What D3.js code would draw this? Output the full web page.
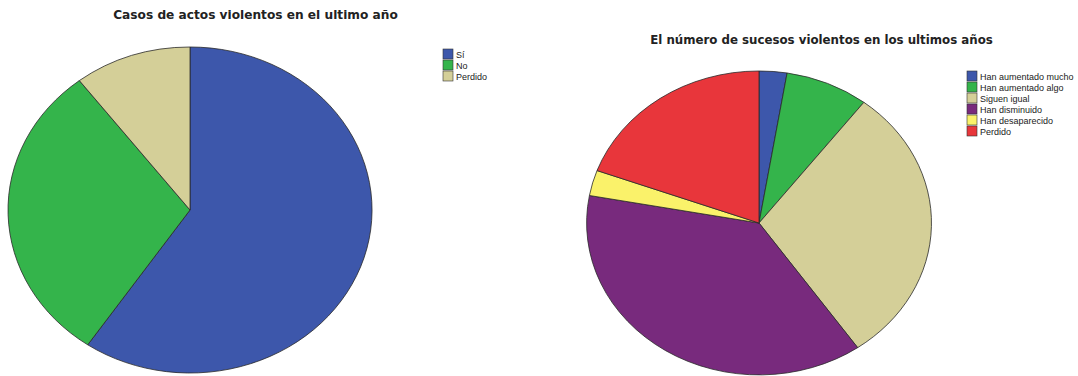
<!DOCTYPE html>
<html><head><meta charset="utf-8">
<script src="https://cdn.jsdelivr.net/npm/d3@7"></script>
<style>body{margin:0;background:#fff}svg{display:block}</style>
</head><body>
<svg id="c" width="1078" height="376"></svg>
<script>
// Chart 1
const title1 = "Casos de actos violentos en el ultimo año";
const cats1 = ["Sí", "No", "Perdido"];
const vals1 = [59.5, 30.1, 10.4];
const colors1 = ["#3d57ab", "#34b44b", "#d4cf98"];
// Chart 2
const title2 = "El número de sucesos violentos en los ultimos años";
const cats2 = ["Han aumentado mucho", "Han aumentado algo", "Siguen igual", "Han disminuido", "Han desaparecido", "Perdido"];
const vals2 = [2.6, 7.8, 29.9, 37.6, 2.7, 19.4];
const colors2 = ["#3d57ab", "#34b44b", "#d4cf98", "#782a7d", "#faf26a", "#e8363b"];

const svg = d3.select("#c");

function drawPie(cfg) {
  const g = svg.append("g").attr("transform", `translate(${cfg.cx},${cfg.cy}) scale(${cfg.rx},${cfg.ry})`);
  const pie = d3.pie().sort(null).value(d => d.v);
  const arc = d3.arc().innerRadius(0).outerRadius(1);
  const data = cfg.cats.map((c, i) => ({c, v: cfg.vals[i], col: cfg.colors[i]}));
  g.selectAll("path").data(pie(data)).join("path")
    .attr("d", arc)
    .attr("fill", d => d.data.col)
    .attr("stroke", "#2a2a2a")
    .attr("stroke-width", 0.8)
    .attr("vector-effect", "non-scaling-stroke");
  const t = svg.append("text").attr("x", cfg.tx).attr("y", cfg.ty)
    .attr("text-anchor", "middle")
    .attr("font-family", "DejaVu Sans, Verdana, sans-serif")
    .attr("font-weight", "bold").attr("font-size", 10)
    .attr("fill", "#222").text(cfg.title);
  const w = t.node().getComputedTextLength();
  t.attr("font-size", 10 * cfg.tw / w);
  const lg = svg.append("g").attr("transform", `translate(${cfg.lx},${cfg.ly})`);
  const rows = lg.selectAll("g").data(data).join("g")
    .attr("transform", (d, i) => `translate(0,${i * cfg.lstep})`);
  rows.append("rect").attr("x", 0).attr("y", -5).attr("width", 10).attr("height", 10)
    .attr("fill", d => d.col).attr("stroke", "#333").attr("stroke-width", 0.6);
  rows.append("text").attr("x", 13).attr("y", 3.5)
    .attr("font-family", "Liberation Sans, Arial, sans-serif")
    .attr("font-size", 9).attr("fill", "#222").text(d => d.c);
}

drawPie({cx: 190, cy: 210, rx: 182, ry: 163, cats: cats1, vals: vals1, colors: colors1,
  title: title1, tx: 255.5, ty: 18.5, tw: 285, lx: 443, ly: 54, lstep: 11});
drawPie({cx: 759, cy: 223, rx: 172.5, ry: 152, cats: cats2, vals: vals2, colors: colors2,
  title: title2, tx: 821.5, ty: 44, tw: 343, lx: 967, ly: 76, lstep: 11});
</script>
</body></html>
